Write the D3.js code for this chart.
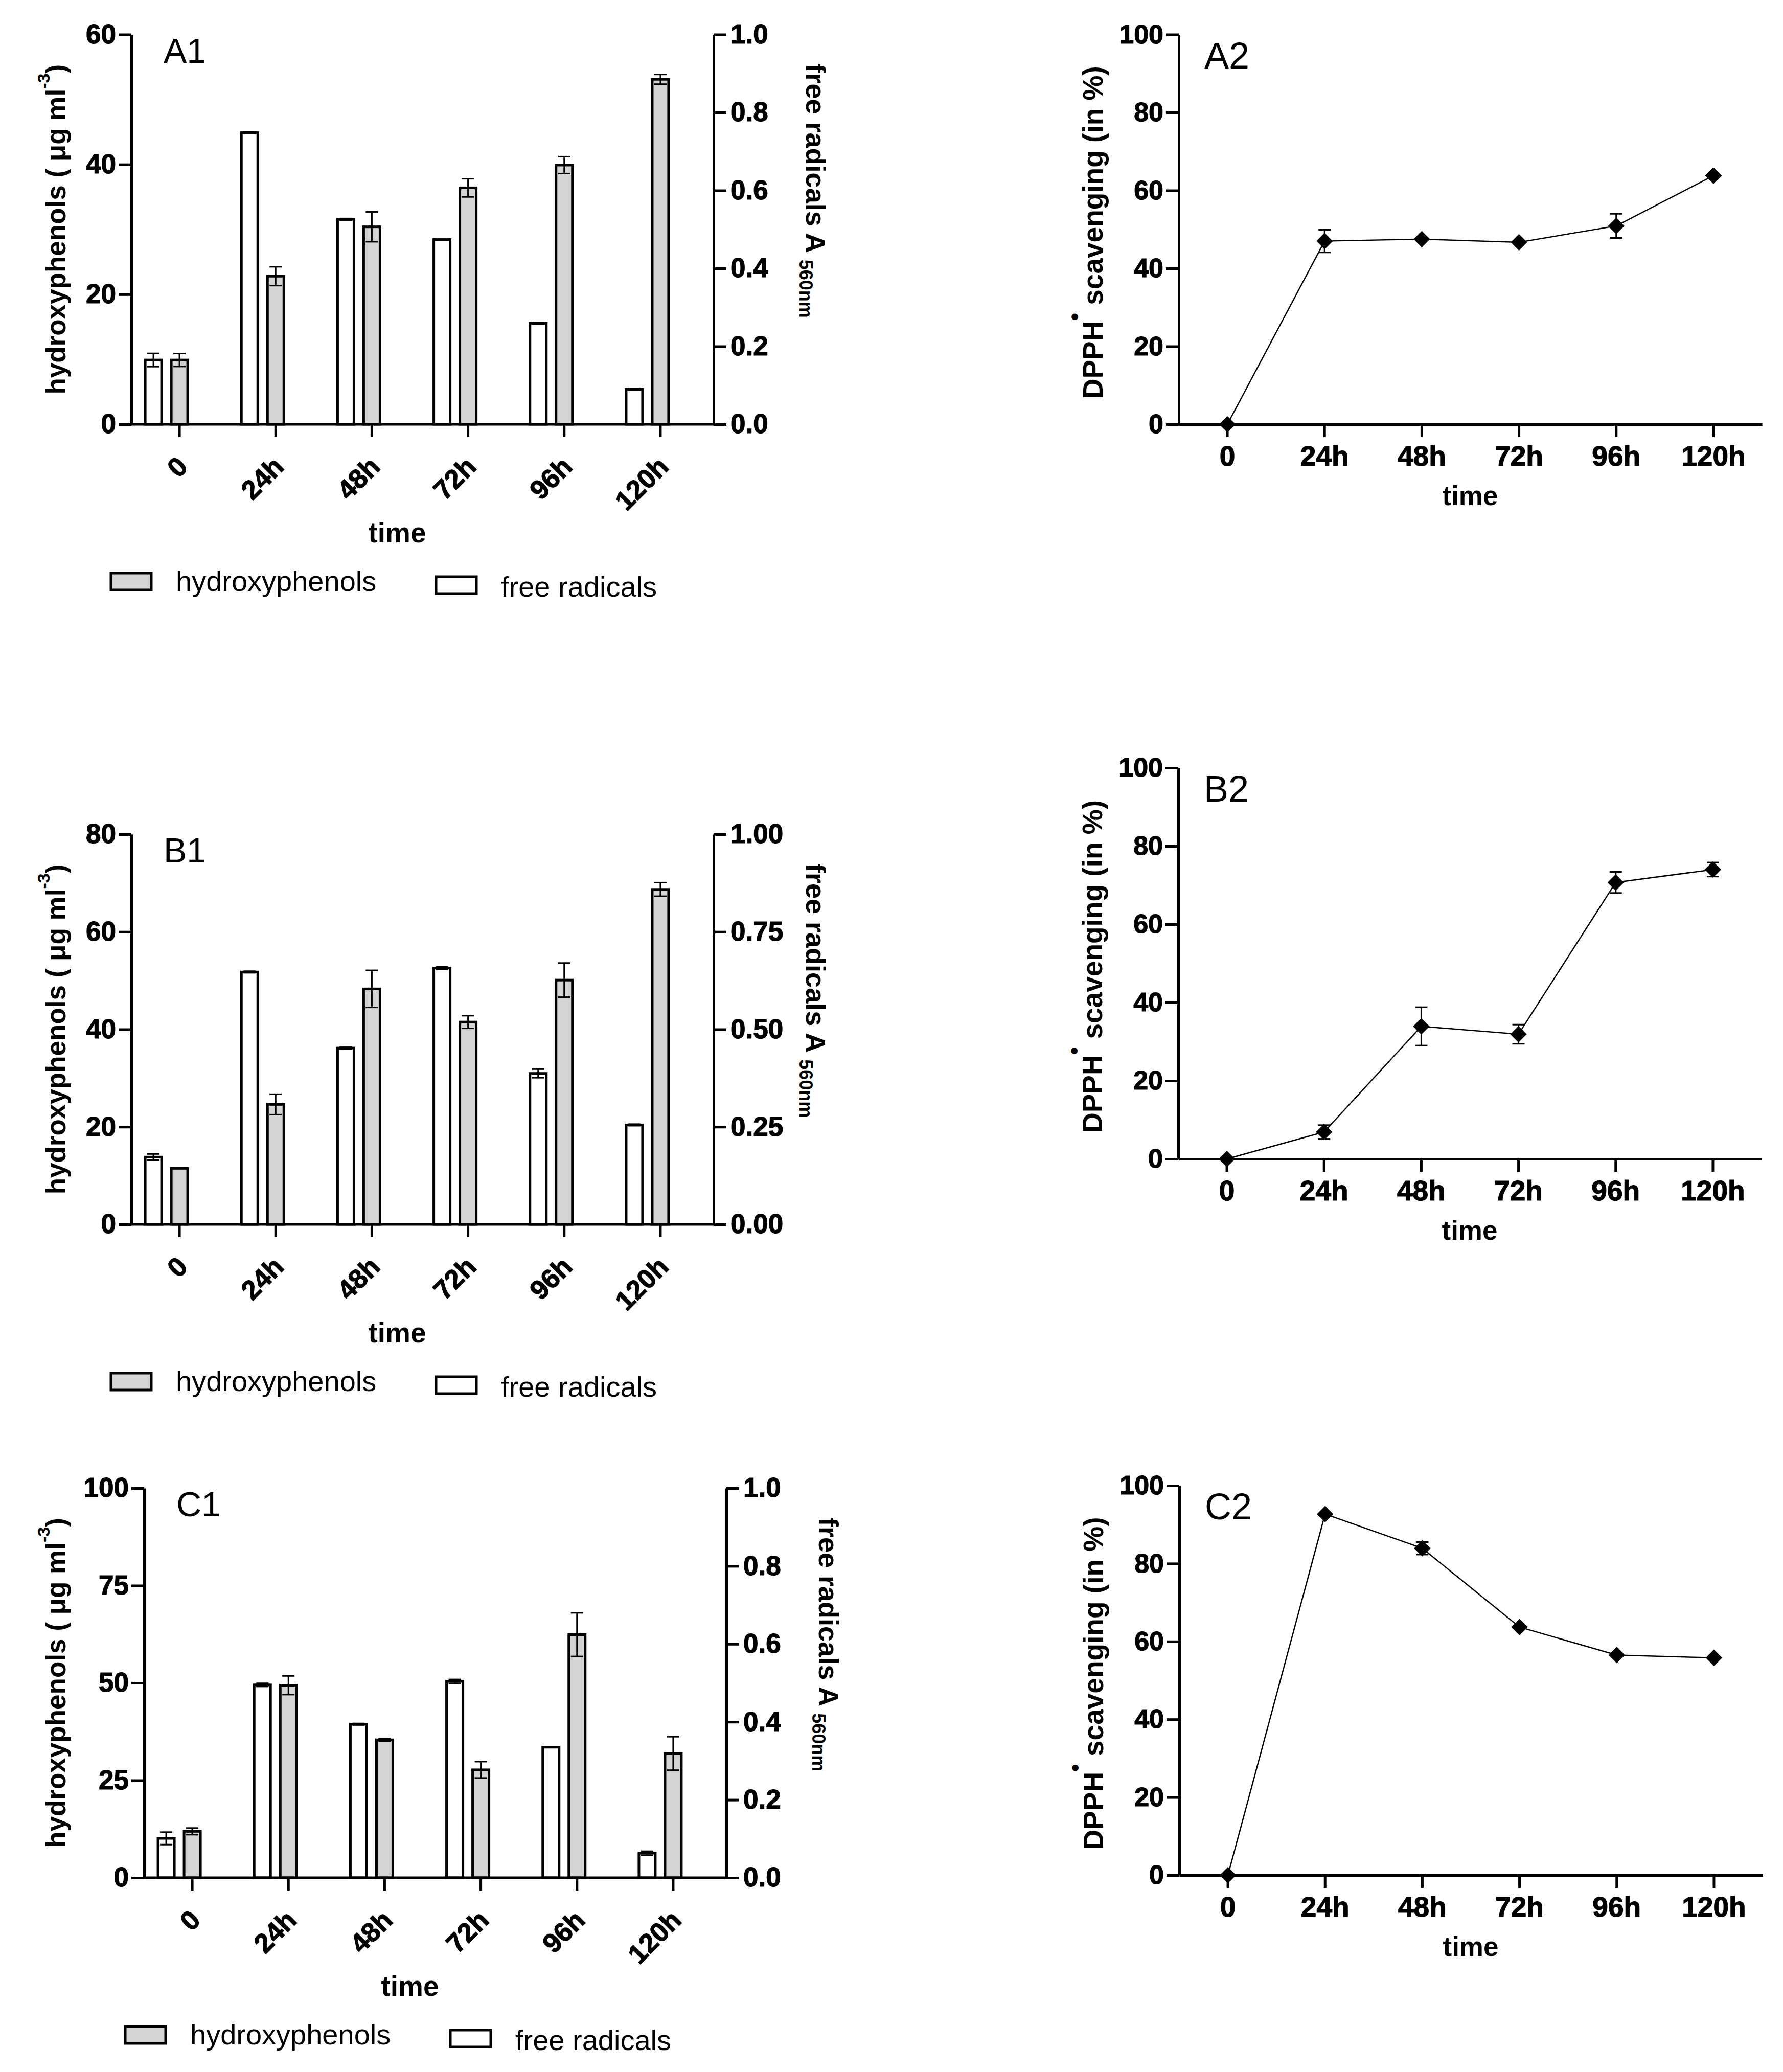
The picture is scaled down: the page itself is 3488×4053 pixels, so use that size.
<!DOCTYPE html>
<html>
<head>
<meta charset="utf-8">
<script src="https://cdn.jsdelivr.net/npm/d3@7"></script>
<style>
  body { margin: 0; background: #fff; }
  svg { display: block; }
  text { font-family: "Liberation Sans", Arial, Helvetica, sans-serif; }
</style>
</head>
<body>
<svg id="fig" width="3488" height="4053"></svg>
<script>
// ---- data ----
const times = ["0", "24h", "48h", "72h", "96h", "120h"];

// A1
const a1Hydroxy = [9.9, 22.8, 30.4, 36.4, 39.9, 53.1];
const a1HydroxyErr = [1.0, 1.45, 2.3, 1.4, 1.3, 0.75];
const a1Radicals = [0.165, 0.748, 0.526, 0.474, 0.259, 0.09];
const a1RadicalsErr = [0.017, 0.002, 0.002, 0, 0.002, 0.002];
const a1LeftTicks = [0, 20, 40, 60];
const a1RightTicks = [0, 0.2, 0.4, 0.6, 0.8, 1.0];

// B1
const b1Hydroxy = [11.5, 24.6, 48.3, 41.5, 50.1, 68.7];
const b1HydroxyErr = [0, 2.1, 3.8, 1.3, 3.5, 1.4];
const b1Radicals = [0.1725, 0.647, 0.452, 0.657, 0.387, 0.255];
const b1RadicalsErr = [0.008, 0.002, 0.002, 0.003, 0.011, 0.002];
const b1LeftTicks = [0, 20, 40, 60, 80];
const b1RightTicks = [0, 0.25, 0.5, 0.75, 1.0];

// C1
const c1Hydroxy = [11.9, 49.4, 35.4, 27.7, 62.4, 31.9];
const c1HydroxyErr = [0.85, 2.4, 0.3, 2.1, 5.6, 4.3];
const c1Radicals = [0.101, 0.495, 0.394, 0.504, 0.335, 0.063];
const c1RadicalsErr = [0.016, 0.004, 0.002, 0.005, 0, 0.005];
const c1LeftTicks = [0, 25, 50, 75, 100];
const c1RightTicks = [0, 0.2, 0.4, 0.6, 0.8, 1.0];

// DPPH scavenging (%)
const a2Dpph = [0, 47.0, 47.5, 46.7, 50.9, 63.8];
const a2DpphErr = [0, 2.9, 0, 0, 3.1, 0];
const b2Dpph = [0, 6.9, 33.9, 31.9, 70.7, 74.0];
const b2DpphErr = [0, 1.75, 4.9, 2.45, 2.7, 1.8];
const c2Dpph = [0, 92.7, 83.9, 63.7, 56.5, 55.8];
const c2DpphErr = [0, 0, 1.6, 0, 0, 0];
const dpphTicks = [0, 20, 40, 60, 80, 100];

const svg = d3.select("#fig");
const GREY = "#d4d4d4";

function styleAxis(g, size) {
  g.selectAll(".domain").attr("stroke", "#000").attr("stroke-width", 5);
  g.selectAll(".tick line").attr("stroke", "#000").attr("stroke-width", 5);
  g.selectAll(".tick text")
    .attr("fill", "#000")
    .attr("stroke", "#000").attr("stroke-width", 1.2)
    .style("font-size", size + "px")
    .style("font-weight", "bold");
}

function errorBar(g, cx, yScale, v, e) {
  if (!e) return;
  const y0 = yScale(v - e), y1 = yScale(v + e);
  const eb = g.append("g").attr("stroke", "#000").attr("stroke-width", 3);
  eb.append("line").attr("x1", cx).attr("x2", cx).attr("y1", y0).attr("y2", y1);
  eb.append("line").attr("x1", cx - 12).attr("x2", cx + 12).attr("y1", y0).attr("y2", y0);
  eb.append("line").attr("x1", cx - 12).attr("x2", cx + 12).attr("y1", y1).attr("y2", y1);
}

function barPanel(p) {
  const g = svg.append("g");
  const x = d3.scaleBand().domain(times).range([p.left, p.left + 1129]);
  const yL = d3.scaleLinear().domain([0, p.leftMax]).range([p.bottom, p.top]);
  const yR = d3.scaleLinear().domain([0, 1]).range([p.bottom, p.top]);
  const bw = 32, off = 51;
  const cx = t => x(t) + x.bandwidth() / 2;

  // free radicals (white, right axis)
  g.selectAll("rect.rad").data(times).enter().append("rect")
    .attr("x", t => cx(t) - off - bw / 2)
    .attr("y", (t, i) => yR(p.rad[i]))
    .attr("width", bw)
    .attr("height", (t, i) => yR(0) - yR(p.rad[i]))
    .attr("fill", "#fff").attr("stroke", "#000").attr("stroke-width", 5);
  // hydroxyphenols (grey, left axis)
  g.selectAll("rect.hyd").data(times).enter().append("rect")
    .attr("x", t => cx(t) - bw / 2)
    .attr("y", (t, i) => yL(p.hydro[i]))
    .attr("width", bw)
    .attr("height", (t, i) => yL(0) - yL(p.hydro[i]))
    .attr("fill", GREY).attr("stroke", "#000").attr("stroke-width", 5);

  times.forEach((t, i) => {
    errorBar(g, cx(t) - off, yR, p.rad[i], p.radErr[i]);
    errorBar(g, cx(t), yL, p.hydro[i], p.hydroErr[i]);
  });

  // axes
  const ax = g.append("g").attr("transform", `translate(0,${p.bottom})`)
    .call(d3.axisBottom(x).tickSize(25).tickSizeOuter(0));
  ax.select(".domain").remove();
  styleAxis(ax, 53);
  ax.selectAll(".tick text")
    .attr("x", 0).attr("y", 0).attr("dy", 0)
    .attr("text-anchor", "end")
    .attr("transform", "translate(19,86) rotate(-45)");
  g.append("line")
    .attr("x1", p.left).attr("x2", p.right)
    .attr("y1", p.bottom).attr("y2", p.bottom)
    .attr("stroke", "#000").attr("stroke-width", 5);

  const al = g.append("g").attr("transform", `translate(${p.left},0)`)
    .call(d3.axisLeft(yL).tickValues(p.leftTicks).tickSize(25).tickSizeOuter(0).tickPadding(5));
  styleAxis(al, 53);

  const ar = g.append("g").attr("transform", `translate(${p.right},0)`)
    .call(d3.axisRight(yR).tickValues(p.rightTicks).tickFormat(d3.format(p.rightFmt))
      .tickSize(25).tickSizeOuter(0).tickPadding(8));
  styleAxis(ar, 53);

  // titles
  const yl = g.append("text")
    .attr("transform", `translate(128,${(p.top + p.bottom) / 2}) rotate(-90)`)
    .attr("text-anchor", "middle")
    .style("font-size", "53px").style("font-weight", "bold");
  yl.append("tspan").text("hydroxyphenols ( \u03bcg ml");
  yl.append("tspan").text("-3").style("font-size", "34px").attr("dy", "-0.9em");
  yl.append("tspan").text(")").attr("dy", "0.58em");

  const yr = g.append("text")
    .attr("transform", `translate(${p.right + 181},${p.top + 57}) rotate(90)`)
    .attr("text-anchor", "start")
    .style("font-size", "54px").style("font-weight", "bold");
  yr.append("tspan").text("free radicals A ");
  yr.append("tspan").text("560nm").style("font-size", "36px").attr("dy", "0.35em");

  g.append("text")
    .attr("x", p.left + 520).attr("y", p.bottom + 231)
    .attr("text-anchor", "middle")
    .style("font-size", "55px").style("font-weight", "bold")
    .text("time");

  g.append("text")
    .attr("x", p.left + 63).attr("y", p.top + 55)
    .style("font-size", "68px")
    .text(p.label);

  // legend
  const lx = p.left - 257 + (p.left > 257 ? 3 : 0), ly = p.bottom;
  g.append("rect").attr("x", lx + 217).attr("y", ly + 291).attr("width", 79).attr("height", 33)
    .attr("fill", GREY).attr("stroke", "#000").attr("stroke-width", 5);
  g.append("text").attr("x", lx + 344).attr("y", ly + 326)
    .style("font-size", "56px").text("hydroxyphenols");
  g.append("rect").attr("x", lx + 853).attr("y", ly + 298).attr("width", 79).attr("height", 33)
    .attr("fill", "#fff").attr("stroke", "#000").attr("stroke-width", 5);
  g.append("text").attr("x", lx + 980).attr("y", ly + 337)
    .style("font-size", "56px").text("free radicals");
}

function linePanel(p) {
  const g = svg.append("g");
  const x = d3.scaleBand().domain(times).range([p.left, p.left + 1141]);
  const y = d3.scaleLinear().domain([0, 100]).range([p.bottom, p.top]);
  const cx = t => x(t) + x.bandwidth() / 2;

  const ax = g.append("g").attr("transform", `translate(0,${p.bottom})`)
    .call(d3.axisBottom(x).tickSize(25).tickSizeOuter(0).tickPadding(17));
  styleAxis(ax, 55);
  const al = g.append("g").attr("transform", `translate(${p.left},0)`)
    .call(d3.axisLeft(y).tickValues(dpphTicks).tickSize(25).tickSizeOuter(0).tickPadding(5));
  styleAxis(al, 52);

  const line = d3.line().x((d, i) => cx(times[i])).y(d => y(d));
  g.append("path").datum(p.values)
    .attr("d", line).attr("fill", "none").attr("stroke", "#000").attr("stroke-width", 2.5);

  times.forEach((t, i) => errorBar(g, cx(t), y, p.values[i], p.errs[i]));

  g.selectAll("path.pt").data(p.values).enter().append("path")
    .attr("d", d3.symbol().type(d3.symbolSquare).size(520))
    .attr("transform", (d, i) => `translate(${cx(times[i])},${y(d)}) rotate(45)`)
    .attr("fill", "#000");

  const yl = g.append("text")
    .attr("transform", `translate(${p.left - 149},${(p.top + p.bottom) / 2 + 6}) rotate(-90)`)
    .attr("text-anchor", "middle")
    .style("font-size", "55px").style("font-weight", "bold");
  yl.append("tspan").text("DPPH");
  yl.append("tspan").text("\u2022").style("font-size", "44px").attr("dy", "-0.9em");
  yl.append("tspan").text(" scavenging (in %)").attr("dy", "0.72em");

  g.append("text")
    .attr("x", p.left + 570).attr("y", p.bottom + 158)
    .attr("text-anchor", "middle")
    .style("font-size", "53px").style("font-weight", "bold")
    .text("time");

  g.append("text")
    .attr("x", p.left + 50).attr("y", p.top + 66)
    .style("font-size", "72px")
    .text(p.label);
}

barPanel({ label: "A1", left: 257, right: 1396, top: 67.5, bottom: 830, leftMax: 60,
  leftTicks: a1LeftTicks, rightTicks: a1RightTicks, rightFmt: ".1f",
  hydro: a1Hydroxy, hydroErr: a1HydroxyErr, rad: a1Radicals, radErr: a1RadicalsErr });
barPanel({ label: "B1", left: 257, right: 1396, top: 1632, bottom: 2395, leftMax: 80,
  leftTicks: b1LeftTicks, rightTicks: b1RightTicks, rightFmt: ".2f",
  hydro: b1Hydroxy, hydroErr: b1HydroxyErr, rad: b1Radicals, radErr: b1RadicalsErr });
barPanel({ label: "C1", left: 282, right: 1421, top: 2911, bottom: 3673, leftMax: 100,
  leftTicks: c1LeftTicks, rightTicks: c1RightTicks, rightFmt: ".1f",
  hydro: c1Hydroxy, hydroErr: c1HydroxyErr, rad: c1Radicals, radErr: c1RadicalsErr });

linePanel({ label: "A2", left: 2306, top: 67.5, bottom: 830, values: a2Dpph, errs: a2DpphErr });
linePanel({ label: "B2", left: 2305, top: 1502, bottom: 2267, values: b2Dpph, errs: b2DpphErr });
linePanel({ label: "C2", left: 2307, top: 2906, bottom: 3668, values: c2Dpph, errs: c2DpphErr });
</script>
</body>
</html>
